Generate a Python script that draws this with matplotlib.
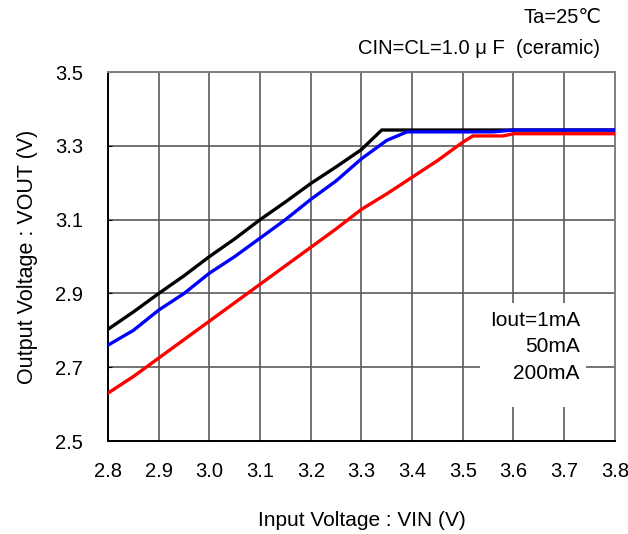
import matplotlib
matplotlib.use("Agg")
import matplotlib.pyplot as plt
from matplotlib.patches import Rectangle

plt.rcParams["font.family"] = ["Liberation Sans", "DejaVu Sans"]

# VIN sweep and measured VOUT per load current
vin_1ma = [2.80, 2.85, 2.90, 2.95, 3.00, 3.05, 3.10, 3.15, 3.20, 3.25, 3.30, 3.34, 3.40, 3.50, 3.60, 3.70, 3.80]
vout_1ma = [2.803, 2.85, 2.90, 2.948, 3.00, 3.048, 3.10, 3.148, 3.198, 3.243, 3.29, 3.343, 3.343, 3.343, 3.343, 3.343, 3.343]

vin_50ma = [2.80, 2.85, 2.90, 2.95, 3.00, 3.05, 3.10, 3.15, 3.20, 3.25, 3.30, 3.35, 3.39, 3.45, 3.50, 3.56, 3.60, 3.70, 3.80]
vout_50ma = [2.76, 2.80, 2.855, 2.90, 2.955, 3.00, 3.05, 3.10, 3.155, 3.205, 3.265, 3.315, 3.338, 3.338, 3.338, 3.338, 3.343, 3.343, 3.343]

vin_200ma = [2.80, 2.85, 2.90, 2.95, 3.00, 3.05, 3.10, 3.15, 3.20, 3.25, 3.30, 3.35, 3.40, 3.45, 3.50, 3.52, 3.58, 3.60, 3.70, 3.80]
vout_200ma = [2.63, 2.675, 2.725, 2.775, 2.825, 2.875, 2.925, 2.975, 3.025, 3.075, 3.128, 3.17, 3.215, 3.26, 3.31, 3.327, 3.327, 3.333, 3.333, 3.333]

x_ticks = [2.8, 2.9, 3.0, 3.1, 3.2, 3.3, 3.4, 3.5, 3.6, 3.7, 3.8]
y_ticks = [2.5, 2.7, 2.9, 3.1, 3.3, 3.5]
load_labels = ["Iout=1mA", "50mA", "200mA"]

fig = plt.figure(figsize=(6.28, 5.34), dpi=100)
ax = fig.add_axes([0.172, 0.174, 0.807, 0.691])

ax.plot(vin_1ma, vout_1ma, color="black", lw=2.4, zorder=3)
ax.plot(vin_50ma, vout_50ma, color="#0000ff", lw=2.4, zorder=3)
ax.plot(vin_200ma, vout_200ma, color="#ff0000", lw=2.4, zorder=3)

ax.set_xlim(2.8, 3.8)
ax.set_ylim(2.5, 3.5)
ax.set_xticks(x_ticks)
ax.set_xticklabels([f"{v:.1f}" for v in x_ticks])
ax.set_yticks(y_ticks)
ax.set_yticklabels([f"{v:.1f}" for v in y_ticks])
ax.tick_params(axis="x", direction="in", length=0, pad=15, labelsize=14.5)
ax.tick_params(axis="y", direction="in", length=3, pad=18, labelsize=14.5)

ax.set_axisbelow(True)
ax.grid(True, color="#5a5a5a", lw=1.2)
for side in ("left", "bottom"):
    ax.spines[side].set_color("black")
    ax.spines[side].set_linewidth(1.4)
for side in ("right", "top"):
    ax.spines[side].set_color("#808080")
    ax.spines[side].set_linewidth(1.4)

ax.set_xlabel("Input Voltage : VIN (V)", fontsize=15, labelpad=22)
ax.set_ylabel("Output Voltage : VOUT (V)", fontsize=15.5, labelpad=12)

# white panel holding the load-current labels
ax.add_patch(Rectangle((0.734, 0.092), 0.209, 0.282, transform=ax.transAxes,
                       facecolor="white", edgecolor="none", zorder=1))
for label, yy in zip(load_labels, [0.328, 0.257, 0.184]):
    ax.text(0.931, yy, label, transform=ax.transAxes, ha="right", va="center",
            fontsize=15, zorder=4)

fig.text(0.958, 0.968, "Ta=25℃", ha="right", va="center", fontsize=14.5)
fig.text(0.956, 0.910, "CIN=CL=1.0 μ F  (ceramic)", ha="right", va="center", fontsize=14.5)

fig.savefig("out.png", dpi=100)
